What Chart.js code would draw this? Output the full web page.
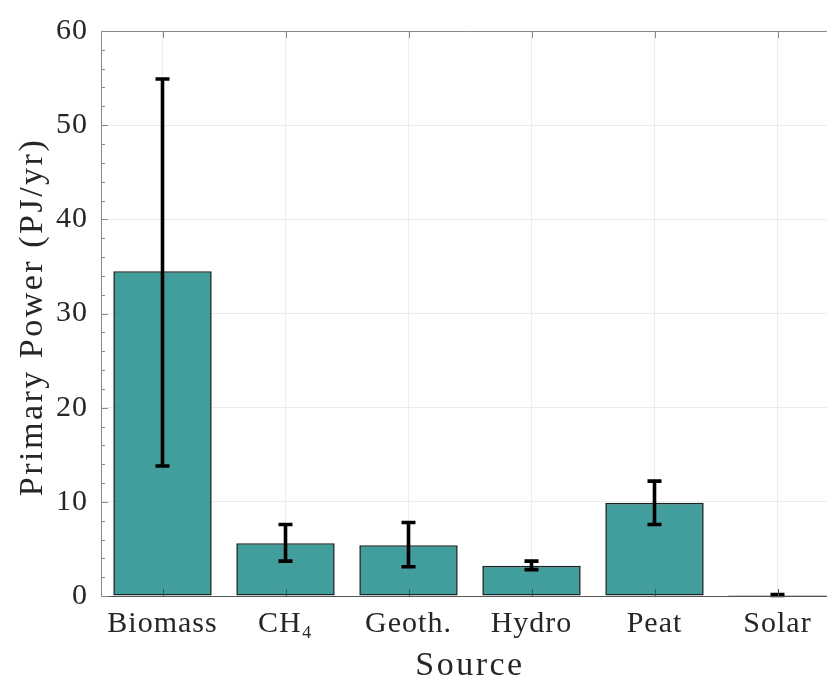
<!DOCTYPE html>
<html>
<head>
<meta charset="utf-8">
<script src="https://cdn.jsdelivr.net/npm/chart.js@4"></script>
<style>
  html, body { margin: 0; padding: 0; background: #fff; overflow: hidden; }
  #wrap { width: 845px; height: 680px; }
</style>
</head>
<body>
<div id="wrap"><canvas id="powerChart" width="845" height="680"></canvas></div>
<script>
// primary power by source, with error range
const sources = ['Biomass', 'CH₄', 'Geoth.', 'Hydro', 'Peat', 'Solar'];
const powerValues = [34.5, 5.6, 5.4, 3.2, 9.9, 0.1];
const errLow = [13.8, 3.7, 3.1, 2.8, 7.6, 0.05];
const errHigh = [54.9, 7.6, 7.8, 3.7, 12.2, 0.15];
const yTicks = [0, 10, 20, 30, 40, 50, 60];
const xTitle = 'Source';
const yTitle = 'Primary Power (PJ/yr)';

const FONT = '"Liberation Serif", "DejaVu Serif", serif';
const AXIS_GRAY = '#8a8a8a';
const TEXT = '#262626';

// wider glyph spacing, closer to the LaTeX look of the original
const spacing = {
    id: 'spacing',
    beforeUpdate(chart) { chart.ctx.letterSpacing = '1px'; }
};

// draws the error bars, the inward tick marks, the frame and the axis titles
const decorations = {
    id: 'decorations',
    afterDatasetsDraw(chart) {
        const { ctx, chartArea: a, scales: { x, y } } = chart;
        ctx.save();

        // error bars
        ctx.strokeStyle = '#000';
        ctx.lineWidth = 3.6;
        ctx.lineCap = 'butt';
        sources.forEach((s, i) => {
            const cx = x.getPixelForValue(i);
            const top = y.getPixelForValue(errHigh[i]);
            const bot = y.getPixelForValue(errLow[i]);
            ctx.beginPath();
            ctx.moveTo(cx, top); ctx.lineTo(cx, bot);
            ctx.moveTo(cx - 7, top); ctx.lineTo(cx + 7, top);
            ctx.moveTo(cx - 7, bot); ctx.lineTo(cx + 7, bot);
            ctx.stroke();
        });

        // frame
        ctx.lineWidth = 1;
        ctx.strokeStyle = AXIS_GRAY;
        ctx.beginPath();
        ctx.moveTo(a.left + 0.5, a.bottom);
        ctx.lineTo(a.left + 0.5, a.top + 0.5);
        ctx.lineTo(a.right, a.top + 0.5);
        ctx.stroke();
        ctx.strokeStyle = '#555';
        ctx.beginPath();
        ctx.moveTo(a.left, a.bottom + 0.5);
        ctx.lineTo(a.right, a.bottom + 0.5);
        ctx.stroke();

        // y ticks, major and minor
        ctx.strokeStyle = AXIS_GRAY;
        ctx.beginPath();
        for (let v = 0; v <= 60; v += 2) {
            const py = Math.round(y.getPixelForValue(v)) + 0.5;
            const len = v % 10 === 0 ? 7 : 4;
            ctx.moveTo(a.left, py); ctx.lineTo(a.left + len, py);
        }
        ctx.stroke();

        // x ticks at top and bottom
        sources.forEach((s, i) => {
            const px = Math.round(x.getPixelForValue(i)) + 0.5;
            ctx.strokeStyle = AXIS_GRAY;
            ctx.beginPath();
            ctx.moveTo(px, a.top); ctx.lineTo(px, a.top + 7);
            ctx.stroke();
            ctx.strokeStyle = '#3a5a5a';
            ctx.beginPath();
            ctx.moveTo(px, a.bottom); ctx.lineTo(px, a.bottom - 7);
            ctx.stroke();
        });

        // axis titles
        ctx.fillStyle = TEXT;
        ctx.font = '34px ' + FONT;
        ctx.letterSpacing = '2.5px';
        ctx.textAlign = 'center';
        ctx.textBaseline = 'alphabetic';
        ctx.fillText(xTitle, 470, 675);
        ctx.translate(42, 317);
        ctx.rotate(-Math.PI / 2);
        ctx.fillText(yTitle, 0, 0);
        ctx.restore();
    }
};

new Chart(document.getElementById('powerChart'), {
    type: 'bar',
    data: {
        labels: sources,
        datasets: [{
            data: powerValues,
            backgroundColor: 'rgba(45, 148, 146, 0.9)',
            borderColor: '#172525',
            borderWidth: 1.6,
            borderSkipped: false,
            barPercentage: 0.8,
            categoryPercentage: 1.0
        }]
    },
    options: {
        responsive: false,
        animation: false,
        layout: { padding: { top: 30, right: 6, left: 0, bottom: 0 } },
        plugins: { legend: { display: false }, tooltip: { enabled: false } },
        scales: {
            x: {
                grid: { color: '#ececec', drawTicks: false, offset: false },
                border: { display: false },
                ticks: { color: TEXT, font: { family: FONT, size: 30 }, padding: 10, maxRotation: 0 },
                afterFit(scale) { scale.height = 84; }
            },
            y: {
                min: 0, max: 60,
                afterBuildTicks(scale) { scale.ticks = yTicks.map(v => ({ value: v })); },
                grid: { color: '#ececec', drawTicks: false },
                border: { display: false },
                ticks: { color: TEXT, font: { family: FONT, size: 30 }, padding: 13 },
                afterFit(scale) { scale.width = 101; }
            }
        }
    },
    plugins: [spacing, decorations]
});
</script>
</body>
</html>
